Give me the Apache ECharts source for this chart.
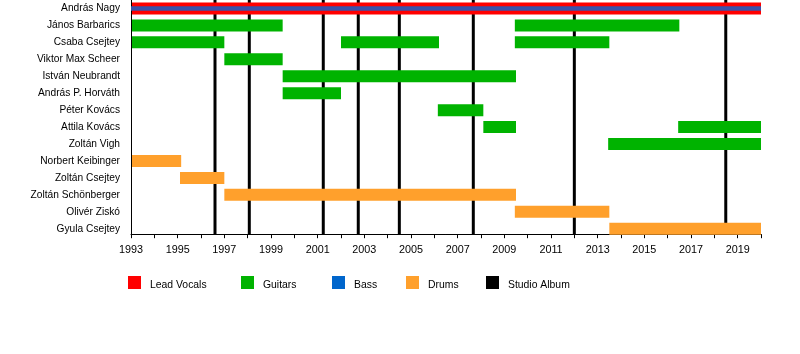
<!DOCTYPE html>
<html>
<head>
<meta charset="utf-8">
<script src="https://cdn.jsdelivr.net/npm/echarts@6/dist/echarts.min.js"></script>
<style>
html,body{margin:0;padding:0;background:#fff;}
#chart{width:800px;height:354px;}
</style>
</head>
<body>
<div id="chart"></div>
<script>
const members = ["András Nagy", "János Barbarics", "Csaba Csejtey", "Viktor Max Scheer", "István Neubrandt", "András P. Horváth", "Péter Kovács", "Attila Kovács", "Zoltán Vigh", "Norbert Keibinger", "Zoltán Csejtey", "Zoltán Schönberger", "Olivér Ziskó", "Gyula Csejtey"];
const vocals = [["András Nagy", 1993, 2020]];
const bass = [["András Nagy", 1993, 2020]];
const guitars = [
  ["János Barbarics", 1993, 1999.5], ["János Barbarics", 2009.45, 2016.5],
  ["Csaba Csejtey", 1993, 1997], ["Csaba Csejtey", 2002, 2006.2], ["Csaba Csejtey", 2009.45, 2013.5],
  ["Viktor Max Scheer", 1997, 1999.5],
  ["István Neubrandt", 1999.5, 2009.5],
  ["András P. Horváth", 1999.5, 2002],
  ["Péter Kovács", 2006.15, 2008.1],
  ["Attila Kovács", 2008.1, 2009.5], ["Attila Kovács", 2016.45, 2020],
  ["Zoltán Vigh", 2013.45, 2020]
];
const drums = [
  ["Norbert Keibinger", 1993, 1995.15],
  ["Zoltán Csejtey", 1995.1, 1997],
  ["Zoltán Schönberger", 1997, 2009.5],
  ["Olivér Ziskó", 2009.45, 2013.5],
  ["Gyula Csejtey", 2013.5, 2020]
];
const albums = [1996.6, 1998.07, 2001.24, 2002.74, 2004.5, 2007.67, 2012.0, 2018.49];
const legendNames = ['Lead Vocals', 'Guitars', 'Bass', 'Drums', 'Studio Album'];
const legendLefts = [128, 241, 332, 406, 486];
const xMin = 1993, xMax = 2020;

const AXIS_SHIFT = 3;
const FONT = "Liberation Sans, Arial, sans-serif";

function toData(list) {
  return list.map(d => [members.indexOf(d[0]), d[1], d[2]]);
}
function barRender(h, color) {
  return function (params, api) {
    const s = api.coord([api.value(1), api.value(0)]);
    const e = api.coord([api.value(2), api.value(0)]);
    return {type: 'rect', shape: {x: s[0], y: s[1] - h / 2, width: e[0] - s[0], height: h}, style: {fill: color}};
  };
}
function barSeries(name, list, h, drawColor, legendColor, z) {
  return {
    name: name, type: 'custom', renderItem: barRender(h, drawColor),
    data: toData(list), encode: {x: [1, 2], y: 0},
    itemStyle: {color: legendColor}, z: z, silent: true
  };
}

const chart = echarts.init(document.getElementById('chart'), null, {renderer: 'canvas'});
chart.setOption({
  animation: false,
  textStyle: {fontFamily: FONT},
  grid: {left: 131, right: 39, top: -1.5, height: 238.7},
  xAxis: {
    type: 'value', min: xMin, max: xMax, interval: 1, offset: -AXIS_SHIFT,
    axisLine: {show: true, lineStyle: {color: '#000', width: 1}},
    axisTick: {show: true, length: 4, lineStyle: {color: '#000'}},
    axisLabel: {fontSize: 10.8, color: '#000', fontFamily: FONT, margin: 10,
      formatter: v => (v % 2 === 1 ? String(v) : '')},
    splitLine: {show: false}
  },
  yAxis: {
    type: 'category', data: members, inverse: true,
    axisLine: {show: false}, axisTick: {show: false}, splitLine: {show: false},
    axisLabel: {fontSize: 10.2, color: '#000', fontFamily: FONT, margin: 11}
  },
  legend: legendNames.map((n, i) => ({
    left: legendLefts[i], top: 276, itemWidth: 13, itemHeight: 13, padding: 0,
    icon: 'rect', selectedMode: false,
    formatter: '{t|{name}}',
    textStyle: {fontSize: 10.4, color: '#000', fontFamily: FONT, padding: [0, 0, 0, 4],
      rich: {t: {fontSize: 10.4, color: '#000', fontFamily: FONT, padding: [6, 0, 0, 0]}}},
    data: [n]
  })),
  series: [
    {
      name: 'Studio Album', type: 'custom', silent: true, z: 1,
      itemStyle: {color: '#000'},
      data: albums.map(a => [a]), encode: {x: 0},
      renderItem: function (params, api) {
        const p = api.coord([api.value(0), 0]);
        const cs = params.coordSys;
        const top = Math.max(cs.y, 0);
        return {type: 'rect', shape: {x: p[0] - 1.5, y: top, width: 3, height: cs.y + cs.height - AXIS_SHIFT - top}, style: {fill: '#000'}};
      }
    },
    {
      name: 'axisLeft', type: 'custom', silent: true, z: 3,
      data: [[xMin]], encode: {x: 0},
      renderItem: function (params, api) {
        const p = api.coord([api.value(0), 0]);
        const cs = params.coordSys;
        const top = Math.max(cs.y, 0);
        return {type: 'line', shape: {x1: Math.round(p[0]) + 0.5, y1: top, x2: Math.round(p[0]) + 0.5, y2: cs.y + cs.height - AXIS_SHIFT}, style: {stroke: '#000', lineWidth: 1}};
      }
    },
    barSeries('Lead Vocals', vocals, 12, '#ff0000', '#ff0000', 2),
    barSeries('Guitars', guitars, 12, '#00b300', '#00b300', 2),
    barSeries('Bass', bass, 4.5, '#3a52aa', '#0066cc', 3),
    barSeries('Drums', drums, 12, '#ffa02c', '#ffa02c', 2)
  ]
});
</script>
</body>
</html>
